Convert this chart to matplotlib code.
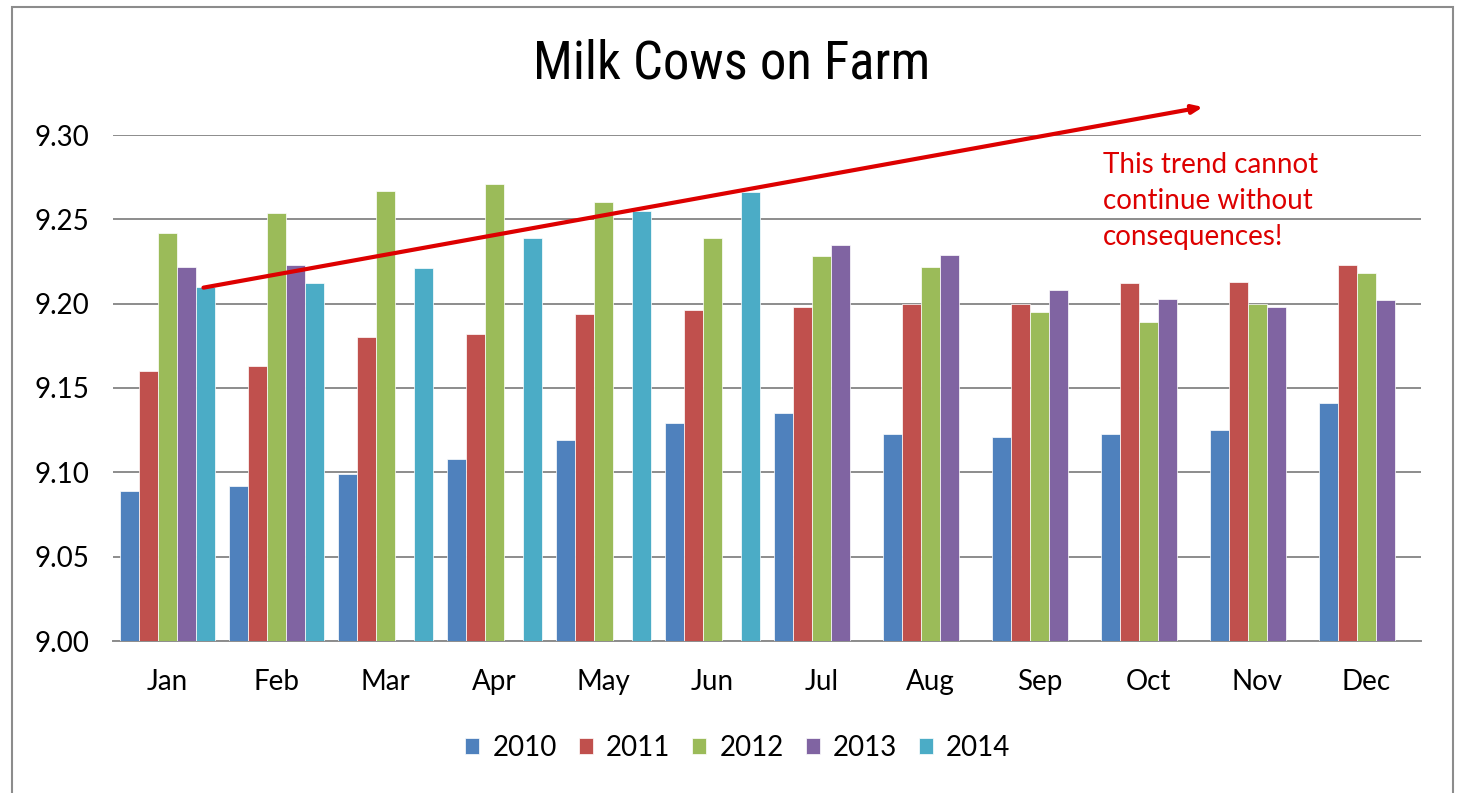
import numpy as np
import matplotlib
matplotlib.use("Agg")
import matplotlib.pyplot as plt
from matplotlib.patches import Rectangle, Patch
from matplotlib import font_manager as fm

months = ["Jan", "Feb", "Mar", "Apr", "May", "Jun", "Jul", "Aug", "Sep", "Oct", "Nov", "Dec"]
years = ["2010", "2011", "2012", "2013", "2014"]
nan = np.nan
v2010 = [9.089, 9.092, 9.099, 9.108, 9.119, 9.129, 9.135, 9.123, 9.121, 9.123, 9.125, 9.141]
v2011 = [9.160, 9.163, 9.180, 9.182, 9.194, 9.196, 9.198, 9.200, 9.200, 9.212, 9.213, 9.223]
v2012 = [9.242, 9.254, 9.267, 9.271, 9.260, 9.239, 9.228, 9.222, 9.195, 9.189, 9.200, 9.218]
v2013 = [9.222, 9.223, nan, nan, nan, nan, 9.235, 9.229, 9.208, 9.203, 9.198, 9.202]
v2014 = [9.210, 9.212, 9.221, 9.239, 9.255, 9.266, nan, nan, nan, nan, nan, nan]
series = [v2010, v2011, v2012, v2013, v2014]
colors = ["#4F81BD", "#C0504D", "#9BBB59", "#8064A2", "#4BACC6"]
yticks = [9.00, 9.05, 9.10, 9.15, 9.20, 9.25, 9.30]

title = "Milk Cows on Farm"
note = "This trend cannot\ncontinue without\nconsequences!"

# pick a narrow sans font for the title if one is installed
names = {f.name for f in fm.fontManager.ttflist}
title_font = dict(family=["Liberation Sans", "DejaVu Sans"], size=33)
for cand in ["Liberation Sans Narrow", "Arial Narrow", "Roboto Condensed",
             "Open Sans Condensed", "DejaVu Sans Condensed"]:
    if cand in names:
        title_font = dict(family=[cand, "DejaVu Sans"], size=38)
        break
else:
    cond = [f for f in fm.fontManager.ttflist
            if f.name == "DejaVu Sans" and "condensed" in str(f.stretch).lower()
            and f.weight in (400, "normal", "regular")]
    if cond:
        title_font = dict(family=["DejaVu Sans"], stretch="condensed", size=34)

W, H = 1461, 793
fig = plt.figure(figsize=(W / 100, H / 100), dpi=100)
ax = fig.add_axes([113 / W, 1 - 641 / H, (1421 - 113) / W, (641 - 135) / H])

x = np.arange(len(months))
bw = 0.174
for i, (vals, c) in enumerate(zip(series, colors)):
    ax.bar(x + (i - 2) * bw, np.array(vals) - 9.0, bw, bottom=9.0, color=c,
           edgecolor="white", linewidth=0.5, zorder=3)

ax.set_xlim(-0.5, len(months) - 0.5)
ax.set_ylim(9.0, 9.30)
ax.set_yticks(yticks)
ax.set_yticklabels([f"{t:.2f}" for t in yticks])
ax.set_xticks(x)
ax.set_xticklabels(months)
for s in ["top", "right", "left"]:
    ax.spines[s].set_visible(False)
ax.spines["bottom"].set_color("#8c8c8c")
ax.spines["bottom"].set_linewidth(1.4)
ax.yaxis.grid(True, color="#8c8c8c", linewidth=1.4, zorder=0)
ax.set_axisbelow(True)
ax.tick_params(axis="both", length=0, labelsize=20)
ax.tick_params(axis="y", pad=17)
ax.tick_params(axis="x", pad=20.5)
for lab in ax.get_xticklabels() + ax.get_yticklabels():
    lab.set_fontfamily(["Lato", "DejaVu Sans"])

# trend arrow
ax.annotate("", xy=(9.5, 9.3166), xytext=(0.33, 9.2095),
            xycoords="data", textcoords="data", annotation_clip=False,
            arrowprops=dict(arrowstyle="-|>,head_length=0.6,head_width=0.25",
                            color="#DD0000", lw=3, shrinkA=0, shrinkB=0), zorder=5)

ax.text(1103 / W, 1 - 152 / H, note, transform=fig.transFigure, color="#DD0000",
        fontsize=20, family=["Lato", "DejaVu Sans"], va="top", ha="left", linespacing=1.47)

fig.text(732 / W, 1 - 64 / H, title, ha="center", va="center", **title_font)

handles = [Patch(facecolor=c, edgecolor="white", linewidth=0.5) for c in colors]
leg = fig.legend(handles, years, loc="center", bbox_to_anchor=(738 / W, 1 - 748 / H),
                 ncol=5, frameon=False, handlelength=0.5, handleheight=0.5,
                 handletextpad=0.47, columnspacing=0.8,
                 prop={"family": ["Lato", "DejaVu Sans"], "size": 20})

fig.patches.append(Rectangle((12 / W, -0.05), (1453 - 12) / W, 1.05 - 7 / H,
                             transform=fig.transFigure, fill=False,
                             edgecolor="#8c8c8c", linewidth=1.5))

fig.savefig("out.png", dpi=100)
